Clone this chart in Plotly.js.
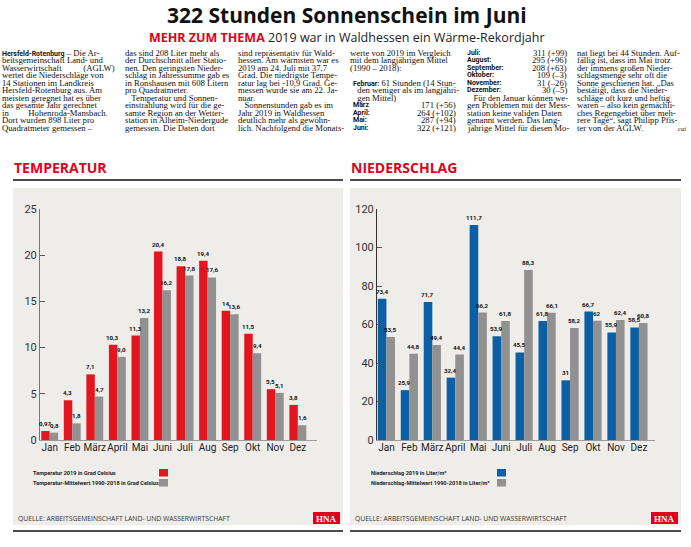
<!DOCTYPE html>
<html><head><meta charset="utf-8">
<script src="https://cdn.plot.ly/plotly-3.0.1.min.js"></script>
<style>html,body{margin:0;padding:0;background:#fff}</style>
</head><body><div id="chart" style="width:691px;height:547px"></div>
<script>
// ---- data ----
const months = ['Jan','Feb','März','April','Mai','Juni','Juli','Aug','Sep','Okt','Nov','Dez'];
const temp2019 = [0.97,4.3,7.1,10.3,11.3,20.4,18.8,19.4,14,11.5,5.5,3.8];
const tempMean = [0.8,1.8,4.7,9.0,13.2,16.2,17.8,17.6,13.6,9.4,5.1,1.6];
const temp2019Labels = ['0,97','4,3','7,1','10,3','11,3','20,4','18,8','19,4','14','11,5','5,5','3,8'];
const tempMeanLabels = ['0,8','1,8','4,7','9,0','13,2','16,2','17,8','17,6','13,6','9,4','5,1','1,6'];
const rain2019 = [73.4,25.9,71.7,32.4,111.7,53.9,45.5,61.8,31,66.7,55.9,58.5];
const rainMean = [53.5,44.8,49.4,44.4,66.2,61.8,88.3,66.1,58.2,62,62.4,60.8];
const rain2019Labels = ['73,4','25,9','71,7','32,4','111,7','53,9','45,5','61,8','31','66,7','55,9','58,5'];
const rainMeanLabels = ['53,5','44,8','49,4','44,4','66,2','61,8','88,3','66,1','58,2','62','62,4','60,8'];
const tempTicks = [0,5,10,15,20,25];
const rainTicks = [0,20,40,60,80,100,120];

const sunMonthsA = ['März','April:','Mai:','Juni:'];
const sunValuesA = ['171 (+56)','264 (+102)','287 (+94)','322 (+121)'];
const sunMonthsB = ['Juli:','August:','September:','Oktober:','November:','Dezember:'];
const sunValuesB = ['311 (+99)','295 (+96)','208 (+63)','109 (–3)','31 (–26)','30 (–5)'];

const B = s => '<span style="font-family:Roboto,sans-serif;font-size:7px"><b>'+s+'</b></span>';
const col1 = [B('Hersfeld-Rotenburg')+' – Die Ar-','beitsgemeinschaft Land- und','Wasserwirtschaft          (AGLW)','wertet die Niederschläge von','14 Stationen im Landkreis','Hersfeld-Rotenburg aus. Am','meisten geregnet hat es über','das gesamte Jahr gerechnet','in         Hohenroda-Mansbach.','Dort wurden 898 Liter pro','Quadratmeter gemessen –'];
const col2 = ['das sind 208 Liter mehr als','der Durchschnitt aller Statio-','nen. Den geringsten Nieder-','schlag in Jahressumme gab es','in Ronshausen mit 608 Litern','pro Quadratmeter.','   Temperatur und Sonnen-','einstrahlung wird für die ge-','samte Region an der Wetter-','station in Alheim-Niedergude','gemessen. Die Daten dort'];
const col3 = ['sind repräsentativ für Wald-','hessen. Am wärmsten war es','2019 am 24. Juli mit 37,7','Grad. Die niedrigste Tempe-','ratur lag bei -10,9 Grad. Ge-','messen wurde sie am 22. Ja-','nuar.','   Sonnenstunden gab es im','Jahr 2019 in Waldhessen','deutlich mehr als gewöhn-','lich. Nachfolgend die Monats-'];
const col4 = ['werte von 2019 im Vergleich','mit dem langjährigen Mittel','(1990 – 2018):'];
const col4b = [B('Februar:')+' 61 Stunden (14 Stun-','  den weniger als im langjähri-','  gen Mittel)'];
const col5 = ['   Für den Januar können we-','gen Problemen mit der Mess-','station keine validen Daten','genannt werden. Das lang-','jährige Mittel für diesen Mo-'];
const col6 = ['nat liegt bei 44 Stunden. Auf-','fällig ist, dass im Mai trotz','der immens großen Nieder-','schlagsmenge sehr oft die','Sonne geschienen hat. „Das','bestätigt, dass die Nieder-','schläge oft kurz und heftig','waren – also kein gemächli-','ches Regengebiet über meh-','rere Tage“, sagt Philipp Pfis-','ter von der AGLW.'];

// ---- helpers ----
const W = 691, H = 547;
const fx = p => p / W, fy = p => 1 - p / H;
const RED = '#e3161f', GREY = '#919191', BLUE = '#0b5fa5', BG = '#efede9', HRED = '#e2001a';
const NARROW = 'Roboto, Liberation Sans, sans-serif';
const SERIF = 'Liberation Serif, DejaVu Serif, serif';
const SANS = 'Open Sans, Noto Sans, sans-serif';

const ann = [];
const shapes = [];
function txt(x, y, text, size, opts = {}) {
  ann.push(Object.assign({xref:'paper', yref:'paper', x:fx(x), y:fy(y), xanchor:'left', yanchor:'middle',
    text, showarrow:false, borderpad:0, font:{family:SERIF, size, color:'#111'}}, opts));
}
function rect(x0, y0, x1, y1, fill, layer='below') {
  shapes.push({type:'rect', xref:'paper', yref:'paper', x0:fx(x0), x1:fx(x1), y0:fy(y1), y1:fy(y0), fillcolor:fill, line:{width:0}, layer});
}
function hline(x0, x1, y, w) {
  shapes.push({type:'line', xref:'paper', yref:'paper', x0:fx(x0), x1:fx(x1), y0:fy(y), y1:fy(y), line:{color:'#111', width:w}});
}

// title
txt(347, 15, '<b>322 Stunden Sonnenschein im Juni</b>', 21, {xanchor:'center', font:{family:SANS, size:21, color:'#111'}});
txt(347, 37, '<span style="color:'+HRED+'"><b>MEHR ZUM THEMA</b></span> 2019 war in Waldhessen ein Wärme-Rekordjahr', 12.5, {xanchor:'center', font:{family:SANS, size:12.5, color:'#222'}});

// article columns
const LY = i => 52.5 + i * 7.55;
const FS = 8.7;
col1.forEach((t,i)=>txt(1, LY(i), t, FS));
col2.forEach((t,i)=>txt(124, LY(i), t, FS));
col3.forEach((t,i)=>txt(237, LY(i), t, FS));
col4.forEach((t,i)=>txt(349, LY(i), t, FS));
col4b.forEach((t,i)=>txt(352, LY(i+4), t, FS));
sunMonthsA.forEach((t,i)=>{ txt(352, LY(i+7), B(t), FS); txt(457, LY(i+7), sunValuesA[i], FS, {xanchor:'right'}); });
sunMonthsB.forEach((t,i)=>{ txt(466, LY(i), B(t), FS); txt(568, LY(i), sunValuesB[i], FS, {xanchor:'right'}); });
col5.forEach((t,i)=>txt(466, LY(i+6), t, FS));
col6.forEach((t,i)=>txt(576, LY(i), t, FS));
txt(687, LY(10), '<i>cai</i>', 6.5, {xanchor:'right'});

// section headings & panels
const panels = [
  {x0:13, x1:343, head:'TEMPERATUR', c:RED, lx:32, sq:159, leg:['Temperatur 2019 in Grad Celsius','Temperatur-Mittelwert 1990-2018 in Grad Celsius']},
  {x0:350, x1:681, head:'NIEDERSCHLAG', c:BLUE, lx:370, sq:497, leg:['Niederschlag 2019 in Liter/m²','Niederschlag-Mittelwert 1990-2018 in Liter/m²']}
];
panels.forEach(p => {
  txt(p.x0, 167.5, '<b>'+p.head+'</b>', 14, {font:{family:SANS, size:14, color:HRED}});
  hline(p.x0, p.x1, 180, 1.5);
  rect(p.x0, 188, p.x1, 525, BG);
  hline(p.x0, p.x1, 531, 1.5);
  txt(p.lx, 473, p.leg[0], 5.6, {font:{family:NARROW, size:5.6, color:'#222', weight:'bold'}});
  txt(p.lx, 483, p.leg[1], 5.6, {font:{family:NARROW, size:5.6, color:'#222', weight:'bold'}});
  rect(p.sq, 469, p.sq+9, 476.5, p.c, 'above');
  rect(p.sq, 479, p.sq+9, 486.5, GREY, 'above');
  txt(p.x0+4, 518, 'QUELLE: ARBEITSGEMEINSCHAFT LAND- UND WASSERWIRTSCHAFT', 6.8, {font:{family:SANS, size:6.8, color:'#333'}});
  rect(p.x1-30, 512, p.x1-3, 524, '#e2001a', 'above');
  txt(p.x1-16.5, 518.5, '<b>HNA</b>', 9, {xanchor:'center', font:{family:SERIF, size:9, color:'#fff'}});
});

// ---- traces ----
function bar(y, color, xa, ya) {
  return {type:'bar', x:months, y, marker:{color, line:{width:0}}, xaxis:xa, yaxis:ya, hoverinfo:'skip', showlegend:false};
}
const data = [
  bar(temp2019, RED, 'x', 'y'),
  bar(tempMean, GREY, 'x', 'y'),
  bar(rain2019, BLUE, 'x2', 'y2'),
  bar(rainMean, GREY, 'x2', 'y2')
];
// value labels above bars (through the axes), drawn above all bars
const labFont = {family:NARROW, size:6.2, color:'#111', weight:'bold'};
function valueLabels(vals, labels, xa, ya, shift) {
  vals.forEach((v,i) => ann.push({xref:xa, yref:ya, x:months[i], y:v, xshift:shift, yshift:2, xanchor:'center', yanchor:'bottom',
    text:labels[i], showarrow:false, borderpad:0, font:labFont}));
}
valueLabels(temp2019, temp2019Labels, 'x', 'y', -4.4);
valueLabels(tempMean, tempMeanLabels, 'x', 'y', 4.4);
valueLabels(rain2019, rain2019Labels, 'x2', 'y2', -4.4);
valueLabels(rainMean, rainMeanLabels, 'x2', 'y2', 4.4);

const yDom = [1 - 440/H, 1 - 209/H];
const xCommon = {type:'category', showline:true, linecolor:'#9a9a9a', linewidth:1, ticks:'', showgrid:false, zeroline:false,
  tickangle:0, tickfont:{family:NARROW, size:10, color:'#222'}, fixedrange:true, ticklabelstandoff:-2};
const yCommon = {showline:true, linecolor:'#777', linewidth:1, ticks:'inside', ticklen:5, tickcolor:'#555', showgrid:false,
  zeroline:false, tickfont:{family:NARROW, size:11, color:'#333'}, fixedrange:true, domain:yDom, tickmode:'array'};

const layout = {
  width:W, height:H, margin:{l:0,r:0,t:0,b:0}, paper_bgcolor:'#fff', plot_bgcolor:'rgba(0,0,0,0)',
  barmode:'group', bargap:0.25, bargroupgap:0,
  xaxis: Object.assign({}, xCommon, {domain:[fx(40), fx(317)], range:[-0.43, 11.85], anchor:'y'}),
  yaxis: Object.assign({}, yCommon, {range:[0,25], tickvals:tempTicks, ticktext:tempTicks.map(String), anchor:'x'}),
  xaxis2: Object.assign({}, xCommon, {domain:[fx(377), fx(655)], range:[-0.41, 11.7], anchor:'y2'}),
  yaxis2: Object.assign({}, yCommon, {range:[0,120], tickvals:rainTicks, ticktext:rainTicks.map(String), anchor:'x2', linecolor:'#333'}),
  annotations: ann, shapes: shapes, font:{family:SANS}
};
Plotly.newPlot('chart', data, layout, {staticPlot:true, displayModeBar:false});
</script></body></html>
